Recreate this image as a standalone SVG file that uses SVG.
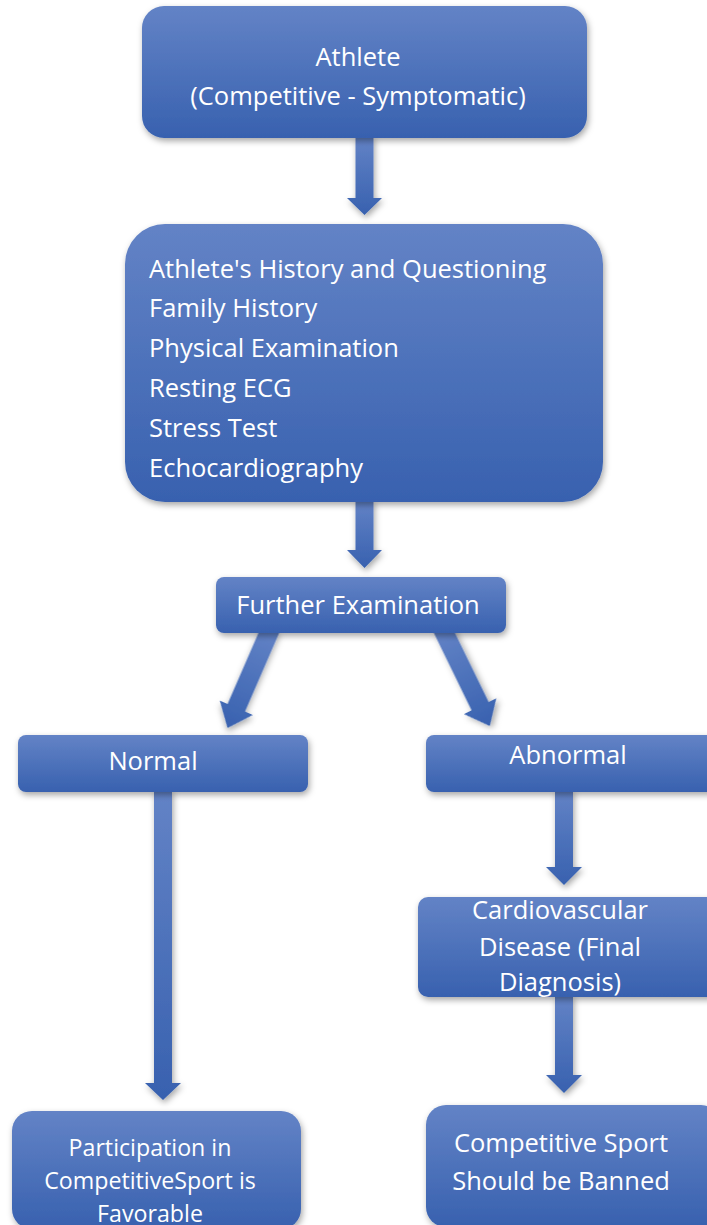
<svg xmlns="http://www.w3.org/2000/svg" width="707" height="1225" viewBox="0 0 707 1225">
<defs>
<linearGradient id="g" x1="0" y1="0" x2="0" y2="1">
<stop offset="0" stop-color="#6383C6"/>
<stop offset="1" stop-color="#3861AF"/>
</linearGradient>
<filter id="sh" x="-10%" y="-10%" width="125%" height="130%">
<feDropShadow dx="1.5" dy="3" stdDeviation="3" flood-color="#000" flood-opacity="0.35"/>
</filter>
<style>
.box{fill:url(#g);filter:url(#sh);}
.arr{fill:url(#g);filter:url(#sh);}
text{font-family:"Open Sans","Noto Sans",sans-serif;fill:#fff;font-size:25.5px;}
.c{text-anchor:middle;}
.s{font-size:23.2px;}
</style>
</defs>
<rect width="707" height="1225" fill="#fff"/>
<g id="connectors">
<polygon class="arr" points="355.5,136 373.5,136 373.5,198 382,198 364.5,215 347,198 355.5,198"/>
<polygon class="arr" points="355.5,500 373.5,500 373.5,550 382,550 364.5,568 347,550 355.5,550"/>
<g transform="translate(271,628) rotate(23.5)"><polygon class="arr" points="-9.5,0 9.5,0 9.5,87 18,87 0,109 -18,87 -9.5,87"/></g>
<g transform="translate(442,628) rotate(-26)"><polygon class="arr" points="-9.5,0 9.5,0 9.5,87 18,87 0,109 -18,87 -9.5,87"/></g>
<polygon class="arr" points="154,790 172,790 172,1083 181,1083 163,1100 145,1083 154,1083"/>
<polygon class="arr" points="555,790 573,790 573,867 582,867 564,885 546,867 555,867"/>
<polygon class="arr" points="555,995 573,995 573,1075 582,1075 564,1093 546,1075 555,1075"/>
</g>
<g id="n1">
<rect class="box" x="142" y="6" width="445" height="132" rx="22"/>
<text class="c" x="358" y="66">Athlete</text>
<text class="c" x="358" y="105">(Competitive - Symptomatic)</text>
</g>
<g id="n2">
<rect class="box" x="125" y="224" width="478" height="278" rx="40"/>
<text x="149" y="278">Athlete's History and Questioning</text>
<text x="149" y="317">Family History</text>
<text x="149" y="357">Physical Examination</text>
<text x="149" y="397">Resting ECG</text>
<text x="149" y="437">Stress Test</text>
<text x="149" y="477">Echocardiography</text>
</g>
<g id="n3">
<rect class="box" x="216" y="577" width="290" height="56" rx="8"/>
<text class="c" x="358" y="614">Further Examination</text>
</g>
<g id="n4">
<rect class="box" x="18" y="735" width="290" height="57" rx="8"/>
<text class="c" x="153" y="770">Normal</text>
</g>
<g id="n5">
<rect class="box" x="426" y="735" width="295" height="57" rx="8"/>
<text class="c" x="568" y="764">Abnormal</text>
</g>
<g id="n6">
<rect class="box" x="418" y="897" width="300" height="100" rx="10"/>
<text class="c" x="560" y="919">Cardiovascular</text>
<text class="c" x="560" y="956">Disease (Final</text>
<text class="c" x="560" y="991">Diagnosis)</text>
</g>
<g id="n7">
<rect class="box" x="12" y="1111" width="289" height="118" rx="20"/>
<text class="c s" x="150" y="1156">Participation in</text>
<text class="c s" x="150" y="1189">CompetitiveSport is</text>
<text class="c s" x="150" y="1222">Favorable</text>
</g>
<g id="n8">
<rect class="box" x="426" y="1105" width="295" height="122" rx="20"/>
<text class="c" x="561" y="1152">Competitive Sport</text>
<text class="c" x="561" y="1190">Should be Banned</text>
</g>
</svg>
